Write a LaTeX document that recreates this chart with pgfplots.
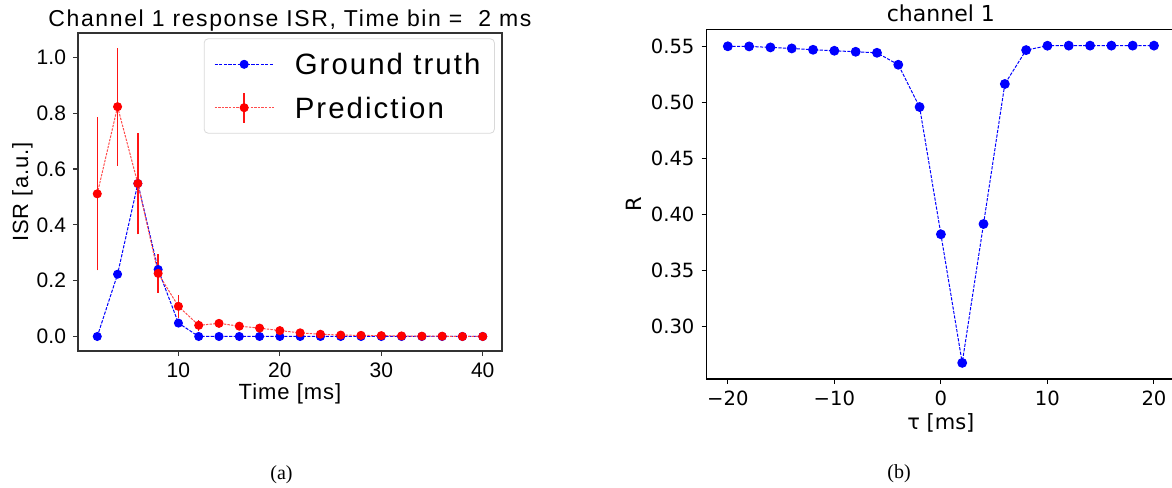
\documentclass[border=0pt]{standalone}
\usepackage{fontspec}
\setmainfont{Liberation Serif}
\newfontfamily\lsans{Liberation Sans}
\newfontfamily\lsansw[LetterSpace=7]{Liberation Sans}
\newfontfamily\lsansl[LetterSpace=4.5]{Liberation Sans}
\newfontfamily\dsans{DejaVu Sans}
\usepackage{pgfplots}
\usepackage{pgfplotstable}
\pgfplotsset{compat=1.18}

\definecolor{errred}{RGB}{255,20,20}

\pgfplotsset{
  gtlegend/.style={legend image code/.code={\draw[mark repeat=2,mark phase=2,##1] plot coordinates {(0pt,0pt) (14.75pt,0pt) (29.5pt,0pt)};}},
  prlegend/.style={legend image code/.code={\draw[draw=errred, line width=0.7pt, solid] (14.75pt,-7.5pt) -- (14.75pt,7.5pt); \draw[mark repeat=2,mark phase=2,##1] plot coordinates {(0pt,0pt) (14.75pt,0pt) (29.5pt,0pt)};}},
}

\pgfplotstableread{
x y
2 0
4 0.223
6 0.548
8 0.240
10 0.048
12 0
14 0
16 0
18 0
20 0
22 0
24 0
26 0
28 0
30 0
32 0
34 0
36 0
38 0
40 0
}\gt

\pgfplotstableread{
x y
2 0.511
4 0.823
6 0.548
8 0.226
10 0.108
12 0.040
14 0.047
16 0.037
18 0.030
20 0.021
22 0.013
24 0.008
26 0.005
28 0.004
30 0.003
32 0.002
34 0.001
36 0.001
38 0
40 0
}\pred

% error bar ends of the prediction (lower, upper), one segment per time bin
\pgfplotstableread{
x y
2 0.237
2 0.785
nan nan
4 0.612
4 1.034
nan nan
6 0.366
6 0.730
nan nan
8 0.156
8 0.296
nan nan
10 0.066
10 0.150
nan nan
12 0.020
12 0.060
nan nan
14 0.037
14 0.057
nan nan
16 0.029
16 0.045
nan nan
18 0.024
18 0.036
nan nan
20 0.016
20 0.026
}\prederr

\pgfplotstableread{
x y
-20 0.5504
-18 0.5503
-16 0.5494
-14 0.5485
-12 0.5473
-10 0.5464
-8 0.5455
-6 0.5446
-4 0.5339
-2 0.4961
0 0.3823
2 0.2673
4 0.3915
6 0.5167
8 0.5470
10 0.5509
12 0.5510
14 0.5510
16 0.5510
18 0.5510
20 0.5510
}\corr

\begin{document}
\begin{tikzpicture}
\useasboundingbox (0,0) rectangle (586pt,243.5pt);

% ---------------- left panel ----------------
\begin{axis}[
  at={(39pt,68pt)}, anchor=south west,
  width=212pt, height=159pt, scale only axis,
  xmin=0.1, xmax=41.9, ymin=-0.052, ymax=1.087,
  unbounded coords=jump,
  xtick={10,20,30,40},
  ytick={0,0.2,0.4,0.6,0.8,1.0},
  yticklabel style={/pgf/number format/fixed,/pgf/number format/fixed zerofill,/pgf/number format/precision=1},
  /pgf/number format/assume math mode=true,
  tick label style={font=\lsans\fontsize{10.5}{12}\selectfont},
  tick align=outside, major tick length=2.5pt,
  xtick pos=bottom, ytick pos=left,
  tick style={black!80, line width=0.6pt},
  axis line style={black!80, line width=0.9pt},
  every axis title shift=0pt,
  title={Channel 1 response ISR, Time bin =\ \ 2 ms},
  title style={font=\lsansw\fontsize{11.5}{13}\selectfont, at={(axis description cs:0.5,1.0189)}, anchor=base},
  xlabel={Time [ms]},
  ylabel={ISR [a.u.]},
  every axis x label/.style={at={(axis description cs:0.5,-0.154)}, anchor=base, font=\lsansl\fontsize{11}{13}\selectfont},
  every axis y label/.style={at={(axis description cs:-0.1175,0.5)}, rotate=90, anchor=base, font=\lsansl\fontsize{11}{13}\selectfont},
  legend style={at={(axis description cs:0.983,0.983)}, anchor=north east,
    draw=black!15, rounded corners=2pt, fill=white,
    font=\lsansw\fontsize{14.7}{17}\selectfont,
    inner xsep=5pt, inner ysep=3.5pt,
    nodes={inner sep=2pt, text height=12.5pt, text depth=2pt},
    row sep=3.2pt,
    /tikz/every odd column/.append style={column sep=8.3pt}},
  legend cell align=left,
]
\addplot[blue, line width=0.5pt, dash pattern=on 1.6pt off 0.7pt,
  mark=*, mark size=2pt, mark options={solid, fill=blue, draw=blue}, gtlegend]
  table[x=x, y=y] {\gt};
\addlegendentry{Ground truth}
\addplot[forget plot, color=errred, draw=errred, line width=0.7pt, solid, mark=none]
  table[x=x, y=y] {\prederr};
\addplot[color=red, draw=red!70!white, line width=0.5pt, dash pattern=on 1.2pt off 0.6pt,
  mark=*, mark size=2pt, mark options={solid, fill=red, draw=red}, prlegend]
  table[x=x, y=y] {\pred};
\addlegendentry{Prediction}
\end{axis}

% ---------------- right panel ----------------
\begin{axis}[
  at={(353.25pt,54pt)}, anchor=south west,
  width=234.4pt, height=174.85pt, scale only axis,
  xmin=-22, xmax=22, ymin=0.2529, ymax=0.5656,
  xtick={-20,-10,0,10,20},
  xticklabels={−20,−10,0,10,20},
  ytick={0.30,0.35,0.40,0.45,0.50,0.55},
  yticklabel style={/pgf/number format/fixed,/pgf/number format/fixed zerofill,/pgf/number format/precision=2},
  /pgf/number format/assume math mode=true,
  tick label style={font=\dsans\fontsize{9.8}{12}\selectfont},
  tick align=outside, major tick length=2.5pt,
  xtick pos=bottom, ytick pos=left,
  tick style={black, line width=0.5pt},
  axis line style={black, line width=0.6pt},
  every axis title shift=0pt,
  title={channel 1},
  title style={font=\dsans\fontsize{11}{13}\selectfont, at={(axis description cs:0.5,1.0217)}, anchor=base},
  xlabel={τ [ms]},
  ylabel={R},
  every axis x label/.style={at={(axis description cs:0.5,-0.1458)}, anchor=base, font=\dsans\fontsize{10.5}{13}\selectfont},
  every axis y label/.style={at={(axis description cs:-0.1397,0.5)}, rotate=90, anchor=base, font=\dsans\fontsize{10.5}{13}\selectfont},
]
\addplot[blue, line width=0.5pt, dash pattern=on 1.6pt off 0.7pt,
  mark=*, mark size=2.2pt, mark options={solid, fill=blue, draw=blue}]
  table[x=x, y=y] {\corr};
\end{axis}

\node[anchor=base, font=\fontsize{10}{12}\selectfont] at (140.75pt,4pt) {(a)};
\node[anchor=base, font=\fontsize{10}{12}\selectfont] at (449.5pt,4.3pt) {(b)};
\end{tikzpicture}
\end{document}
